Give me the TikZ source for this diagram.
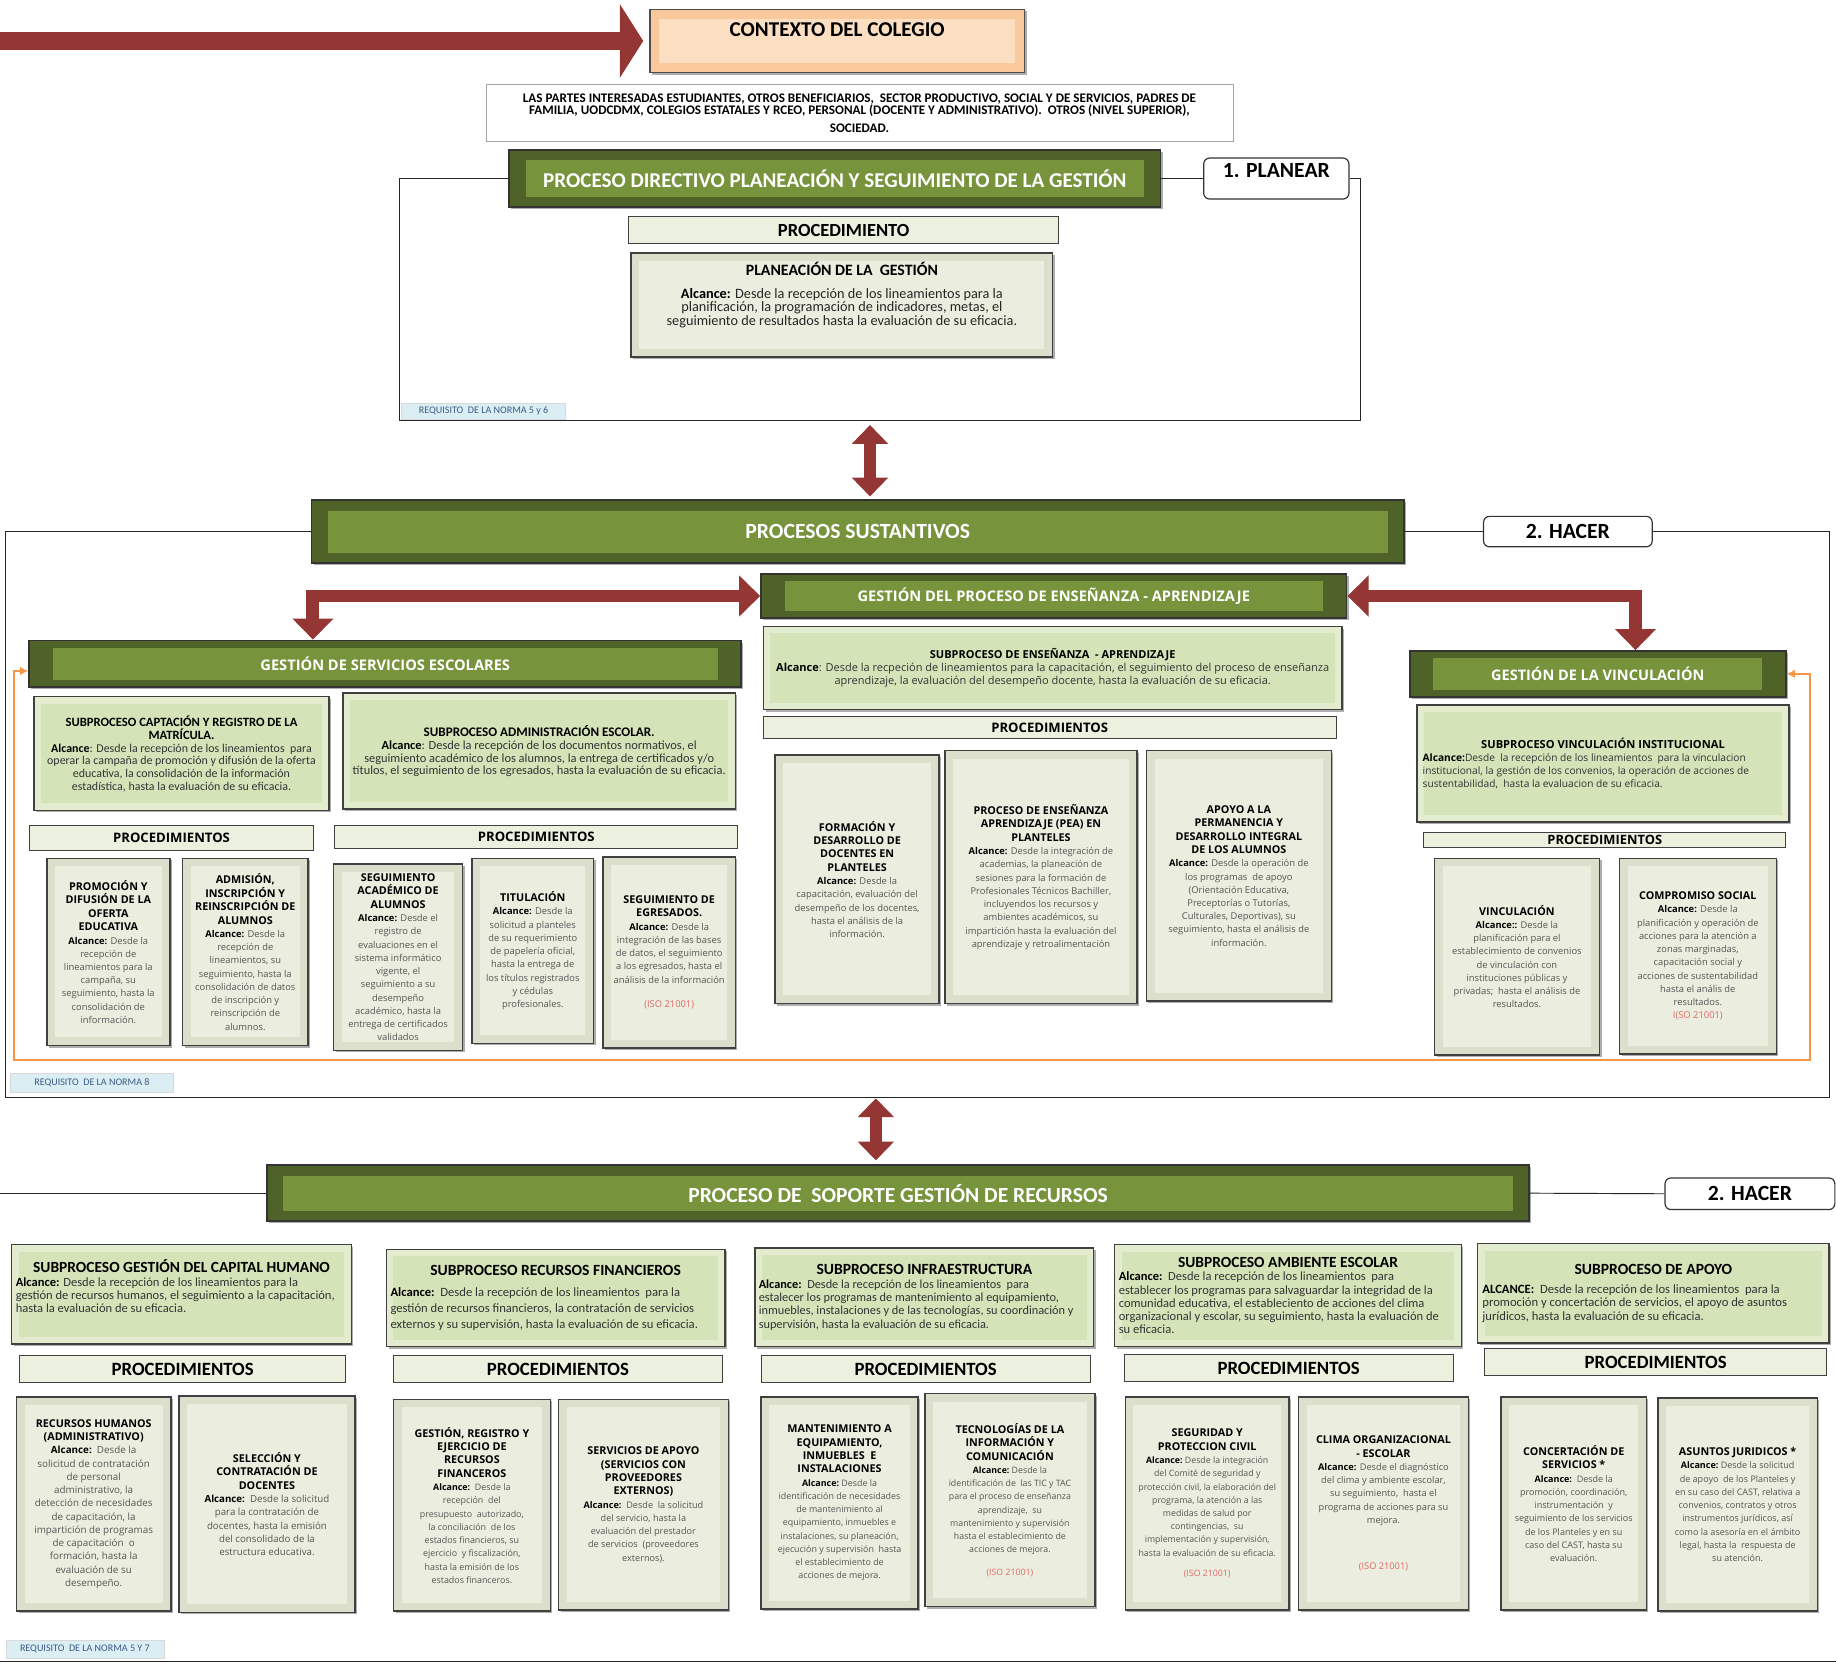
\documentclass[tikz,border=0pt]{standalone}
\usepackage{fontspec}
\setmainfont{Carlito}
\newfontfamily\os{Open Sans}
\usetikzlibrary{arrows.meta,shadows}
\definecolor{dred}{HTML}{943634}
\definecolor{hdrO}{HTML}{4F6228}
\definecolor{hdrI}{HTML}{77933C}
\definecolor{subO}{HTML}{E3ECCE}
\definecolor{subI}{HTML}{D5E3B9}
\definecolor{prO}{HTML}{DCDFCC}
\definecolor{prI}{HTML}{EBEEDF}
\definecolor{barF}{HTML}{EBF1DE}
\definecolor{ctxO}{HTML}{F9C89B}
\definecolor{ctxI}{HTML}{FCDEC3}
\definecolor{orng}{HTML}{F79646}
\definecolor{reqF}{HTML}{DBEEF4}
\definecolor{reqT}{HTML}{3B5C85}
\definecolor{isored}{HTML}{E06666}
\definecolor{bodyG}{HTML}{555555}
\newcommand\fs[2]{\fontsize{#1}{#2}\selectfont}
\newcommand\pttl[1]{\os\bfseries\fs{#1}{11.5}}
\newcommand\pbdy[1]{\mdseries\fs{#1}{11.3}\color{bodyG}}
\newcommand\alc{{\bfseries\color{black}Alcance:}}
\newcommand\iso{\color{isored}(ISO 21001)}
\newcommand\tb[3]{\begin{minipage}{#1pt}\centering\begingroup #2\par\endgroup\raggedright #3\end{minipage}}
\newcommand\mybox[7]{%
 \pgfmathsetmacro\mbw{#4-(#2)}%
 \pgfmathsetmacro\mbh{#5-(#3)}%
 \pgfmathsetmacro\mbt{#4-(#2)-6}%
 \pgfmathsetmacro\mbx{(#2+#4)/2}%
 \pgfmathsetmacro\mby{(#3+#5)/2}%
 \node[#6, minimum width=\mbw pt, minimum height=\mbh pt, inner sep=0pt] (#1) at (\mbx,\mby) {\parbox{\mbt pt}{\centering #7}};}
\tikzset{
 bev/.style n args={4}{fill=#1, path picture={\fill[#2] ([shift={(#3pt,-#4pt)}]path picture bounding box.north west) rectangle ([shift={(-#3pt,#4pt)}]path picture bounding box.south east);}},
 shd/.style={drop shadow={shadow xshift=1.8pt, shadow yshift=-1.8pt, opacity=0.45, fill=black!70}},
 hdr/.style={shd, bev={hdrO}{hdrI}{14}{9}, draw=black!80, line width=1.5pt, text=white, font=\bfseries},
 hdrs/.style={shd, bev={hdrO}{hdrI}{20}{6}, draw=black!80, line width=1.5pt, text=white},
 sub/.style={shd, bev={subO}{subI}{6}{6}, draw=black!75, line width=1.3pt},
 proc/.style={shd, bev={prO}{prI}{7}{7}, draw=black!75, line width=1.3pt},
 bar/.style={fill=barF, draw=black!75, line width=0.9pt},
 lbl/.style={fill=white, draw=black!80, line width=1pt, rounded corners=5pt},
 ctxbox/.style={shd, bev={ctxO}{ctxI}{8}{8}, draw=black!70, line width=1.3pt},
 req/.style={fill=reqF, draw=black!15, line width=0.5pt, text=reqT},
 frame/.style={draw=black!85, line width=0.8pt},
 dblarrow/.style={draw=dred, line width=10pt, {Triangle[length=16pt,width=30pt]}-{Triangle[length=16pt,width=30pt]}},
 elbow/.style={draw=dred, line width=11pt, line join=miter, {Triangle[length=18pt,width=34pt]}-{Triangle[length=18pt,width=34pt]}},
 bigarrow/.style={draw=dred, line width=16pt, -{Triangle[length=20pt,width=62pt]}},
 orangeloop/.style={draw=orng, line width=2pt, {Latex[length=7pt,width=7pt]}-{Latex[length=7pt,width=7pt]}},
}
\begin{document}
\begin{tikzpicture}[x=1pt,y=-1pt]
\useasboundingbox (0,0) rectangle (1568,1425.5);
\fill[white] (0,0) rectangle (1568,1425.5);

% ---------------- top
\coordinate (arrStart) at (0,35);
\mybox{ctx}{555}{8}{875}{62}{ctxbox}{\fs{18}{20}\bfseries CONTEXTO DEL COLEGIO\\[0pt]~}
\draw[bigarrow, shorten >=5pt] (arrStart) -- (ctx.west);
\mybox{stake}{415}{72}{1053}{121}{draw=black!35, line width=0.6pt, fill=white}{\fs{11.2}{11}\bfseries LAS PARTES INTERESADAS\ ESTUDIANTES,\ OTROS BENEFICIARIOS,\ \ SECTOR PRODUCTIVO, SOCIAL Y DE SERVICIOS, PADRES DE\\FAMILIA, UODCDMX,\ COLEGIOS\ ESTATALES Y RCEO, PERSONAL (DOCENTE\ Y ADMINISTRATIVO).\ \ OTROS (NIVEL SUPERIOR),\\[4pt]SOCIEDAD.}

% ---------------- planear
\mybox{hdrA}{435}{128}{991}{177}{hdr}{\fs{18}{20}PROCESO DIRECTIVO PLANEACIÓN Y SEGUIMIENTO DE LA GESTIÓN}
\mybox{planear}{1028}{135}{1152}{170}{lbl}{\fs{18.5}{19}\bfseries 1. PLANEAR\\[-6pt]~}
\mybox{procA}{537}{185}{904}{208}{bar}{\fs{15.8}{17}\bfseries PROCEDIMIENTO}
\mybox{planG}{539}{216}{899}{305}{proc}{\fs{13.5}{14}\bfseries PLANEACIÓN DE LA\ \ GESTIÓN\\[8pt]\fs{12.2}{11.6}\mdseries\color{black!85}\textbf{\color{black}Alcance:} Desde la recepción de los lineamientos para la\\planificación, la programación de indicadores, metas, el\\seguimiento de resultados hasta la evaluación de su eficacia.\\[8pt]~}
\mybox{reqA}{343}{344}{483}{358}{req}{\fs{8.6}{9}REQUISITO\ \ DE LA NORMA 5 y 6}
\coordinate (fAbl) at (341,359);
\coordinate (fAbr) at (1162,359);
\draw[frame] (hdrA.west) -| (fAbl) -- (fAbr) |- (planear.east);
\draw[frame] (hdrA.east) -- (planear.west);

\coordinate (a1s) at (743,363);
\coordinate (a1e) at (743,424);
\draw[dblarrow] (a1s) -- (a1e);

% ---------------- sustantivos
\mybox{hdrB}{266}{427}{1199}{481}{hdr}{\fs{18.5}{20}PROCESOS SUSTANTIVOS}
\mybox{hacerA}{1267}{441}{1411}{467}{lbl}{\fs{18.5}{19}\bfseries 2. HACER}
\coordinate (fBbl) at (5,937);
\coordinate (fBbr) at (1562,937);
\draw[frame] (hdrB.west) -| (fBbl) -- (fBbr) |- (hacerA.east);
\draw[frame] (hdrB.east) -- (hacerA.west);

\mybox{hdrEns}{650}{490}{1150}{528}{hdrs}{\os\fs{12.5}{14}\bfseries GESTIÓN\ DEL PROCESO DE ENSEÑANZA - APRENDIZAJE}
\mybox{hdrSer}{25}{547}{633}{587}{hdrs}{\os\fs{12.5}{14}\bfseries GESTIÓN\ DE SERVICIOS ESCOLARES}
\mybox{hdrVin}{1204}{556}{1525}{595}{hdrs}{\os\fs{12.4}{14}\bfseries GESTIÓN DE LA VINCULACIÓN}
\draw[elbow] (hdrEns.west) -| ([xshift=243pt]hdrSer.north west);
\draw[elbow] (hdrEns.east) -| ([xshift=-129pt]hdrVin.north east);
\coordinate (oL) at (12,905);
\coordinate (oR) at (1546,905);
\draw[orangeloop] ([yshift=-6pt]hdrSer.west) -| (oL) -- (oR) |- (hdrVin.east);

\mybox{subCap}{29}{595}{281}{692}{sub}{\fs{10.8}{11.5}\bfseries SUBPROCESO CAPTACIÓN Y REGISTRO DE LA\\MATRÍCULA.\\\fs{10.2}{10.8}\mdseries\color{black!80}\textbf{\color{black}Alcance}: Desde\ la recepción\ de los lineamientos\ \ para\\operar la campaña de promoción y difusión\ de la oferta\\educativa,\ la consolidación\ de la información\\estadística,\ hasta la evaluación\ de su eficacia.}
\mybox{subAdm}{293}{592}{628}{691}{sub}{\fs{11.2}{11}\bfseries SUBPROCESO ADMINISTRACIÓN ESCOLAR.\\\fs{10.6}{11}\mdseries\color{black!80}\textbf{\color{black}Alcance}: Desde\ la recepción\ de los documentos normativos, el\\seguimiento\ académico\ de los alumnos, la entrega de certificados\ y/o\\títulos, el seguimiento\ de los egresados,\ hasta la evaluación\ de su eficacia.}
\mybox{prSerA}{25}{705}{268}{726}{bar}{\os\fs{11.2}{12}\bfseries PROCEDIMIENTOS}
\mybox{prSerB}{286}{705}{630}{725}{bar}{\os\fs{11.2}{12}\bfseries PROCEDIMIENTOS}

\mybox{pProm}{40}{733}{145}{893}{proc}{\pttl{9.2}PROMOCIÓN Y\\DIFUSIÓN DE LA\\OFERTA\\EDUCATIVA\\\pbdy{8}\alc{} Desde la\\recepción de\\lineamientos para la\\campaña, su\\seguimiento,\ hasta la\\consolidación de\\información.}
\mybox{pAdm}{156}{733}{263}{893}{proc}{\pttl{9.2}ADMISIÓN,\\INSCRIPCIÓN Y\\REINSCRIPCIÓN DE\\ALUMNOS\\\pbdy{8}\alc{} Desde la\\recepción de\\lineamientos, su\\seguimiento,\ hasta la\\consolidación de datos\\de inscripción y\\reinscripción de\\alumnos.}
\mybox{pSeg}{285}{738}{395}{897}{proc}{\pttl{9.2}SEGUIMIENTO\\ACADÉMICO DE\\ALUMNOS\\\pbdy{8}\alc{} Desde el\\registro de\\evaluaciones en el\\sistema informático\\vigente,\ el\\seguimiento\ a su\\desempeño\\académico, hasta\ la\\entrega de certificados\\validados}
\mybox{pTit}{403}{733}{507}{891}{proc}{\pttl{9.2}TITULACIÓN\\\pbdy{8}\alc{} Desde la\\solicitud\ a planteles\\de su requerimiento\\de papelería oficial,\\hasta la entrega de\\los títulos registrados\\y cédulas\\profesionales.}
\mybox{pEgr}{515}{732}{628}{895}{proc}{\pttl{9.2}SEGUIMIENTO\ DE\\EGRESADOS.\\\pbdy{8}\alc{} Desde la\\integración de las bases\\de datos, el seguimiento\\a los egresados, hasta el\\análisis de la información\\[10pt]\iso}

\mybox{subEns}{652}{535}{1146}{606}{sub}{\os\fs{9.4}{11}\bfseries SUBPROCESO DE ENSEÑANZA\ \ - APRENDIZAJE\\\mdseries\color{black!80}\textbf{\color{black}Alcance}: Desde\ la recpeción\ de lineamientos\ para la capacitación,\ el seguimiento\ del proceso de enseñanza\\aprendizaje,\ la evaluación\ del desempeño\ docente, hasta la evaluación\ de su eficacia.}
\mybox{prEns}{652}{612}{1141}{631}{bar}{\os\fs{11.2}{12}\bfseries PROCEDIMIENTOS}
\mybox{pFor}{662}{645}{802}{857}{proc}{\pttl{9.2}FORMACIÓN Y\\DESARROLLO\ DE\\DOCENTES\ EN\\PLANTELES\\\pbdy{8}\alc{} Desde la\\capacitación,\ evaluación del\\desempeño de\ los docentes,\\hasta el análisis de\ la\\información.}
\mybox{pPea}{807}{641}{971}{857}{proc}{\pttl{9.2}PROCESO DE\ ENSEÑANZA\\APRENDIZAJE\ (PEA) EN\\PLANTELES\\\pbdy{8}\alc{} Desde\ la integración de\\academias, la planeación de\\sesiones para la formación de\\Profesionales Técnicos Bachiller,\\incluyendos\ los recursos y\\ambientes académicos, su\\impartición\ hasta la evaluación del\\aprendizaje y retroalimentación}
\mybox{pApo}{979}{641}{1137}{855}{proc}{\pttl{9.2}APOYO A LA\\PERMANENCIA\ Y\\DESARROLLO\ INTEGRAL\\DE LOS ALUMNOS\\\pbdy{8}\alc{} Desde\ la operación de\\los programas\ \ de apoyo\\(Orientación Educativa,\\Preceptorías o Tutorías,\\Culturales,\ Deportivas),\ su\\seguimiento,\ hasta el análisis de\\información.}

\mybox{subVin}{1210}{602}{1528}{702}{sub}{\os\fs{8.7}{11}\tb{308}{\fs{9.5}{11}\bfseries SUBPROCESO VINCULACIÓN INSTITUCIONAL}{\color{black!80}\textbf{\color{black}Alcance:}Desde\ \ la recepción\ de los lineamientos\ \ para la vinculacion\\institucional,\ la gestión de los convenios,\ la operación\ de acciones\ de\\sustentabilidad,\ \ hasta la evaluacion\ de su eficacia.}}
\mybox{prVin}{1216}{711}{1525}{724}{bar}{\os\fs{11}{11}\bfseries PROCEDIMIENTOS}
\mybox{pVin}{1225}{733}{1366}{901}{proc}{\pttl{9.2}VINCULACIÓN\\\pbdy{8}{\bfseries\color{black}Alcance::} Desde la\\planificación para el\\establecimiento de convenios\\de vinculación con\\instituciones públicas y\\privadas;\ \ hasta el análisis de\\resultados.}
\mybox{pCom}{1383}{733}{1517}{900}{proc}{\pttl{9.2}COMPROMISO SOCIAL\\\pbdy{8}\alc{} Desde la\\planificación y\ operación\ de\\acciones para la atención a\\zonas marginadas,\\capacitación social y\\acciones de sustentabilidad\\hasta el\ anális de\\resultados.\\\color{isored}I(SO 21001)}
\mybox{reqB}{9}{917}{148}{933}{req}{\fs{8.6}{9}REQUISITO\ \ DE LA NORMA 8}

\coordinate (a2s) at (748,938);
\coordinate (a2e) at (748,991);
\draw[dblarrow] (a2s) -- (a2e);

% ---------------- soporte
\mybox{hdrC}{228}{995}{1306}{1043}{hdr}{\fs{18.4}{20}PROCESO DE\ \ SOPORTE GESTIÓN DE RECURSOS}
\mybox{hacerB}{1422}{1006}{1567}{1033}{lbl}{\fs{18.5}{19}\bfseries 2. HACER}
\coordinate (sL) at (0,1019);
\draw[frame] (sL) -- (hdrC.west);
\draw[frame] (hdrC.east) -- (hacerB.west);

\mybox{subCH}{10}{1063}{300}{1148}{sub}{\tb{283}{\fs{13.2}{13}\bfseries SUBPROCESO GESTIÓN DEL CAPITAL HUMANO}{\fs{10.7}{11.3}\color{black!80}\textbf{\color{black}Alcance:} Desde\ la\ recepción\ de los lineamientos\ para la\\gestión de recursos\ humanos,\ el seguimiento\ a la capacitación,\\hasta la evaluación\ de su eficacia.\par\vspace{14pt}}}
\mybox{subRF}{330}{1067}{619}{1150}{sub}{\tb{282}{\fs{13.3}{13}\bfseries SUBPROCESO RECURSOS FINANCIEROS\par\vspace{4pt}}{\fs{10.8}{14}\color{black!80}\textbf{\color{black}Alcance:}\ \ Desde la\ recepción de los lineamientos\ \ para la\\gestión de recursos\ financieros,\ la contratación de servicios\\externos y su supervisión,\ hasta\ la evaluación\ de su eficacia.}}
\mybox{subIn}{645}{1066}{934}{1150}{sub}{\tb{283}{\fs{13.3}{13}\bfseries SUBPROCESO INFRAESTRUCTURA}{\fs{10.5}{11.4}\color{black!80}\textbf{\color{black}Alcance:}\ \ Desde\ la\ recepción\ de los lineamientos\ \ para\\estalecer\ los programas de mantenimiento\ al equipamiento,\\inmuebles,\ instalaciones\ y de las tecnologías,\ su coordinación\ y\\supervisión,\ hasta la evaluación\ de su eficacia.}}
\mybox{subAm}{952}{1063}{1248}{1150}{sub}{\tb{289}{\fs{13.2}{13}\bfseries SUBPROCESO AMBIENTE ESCOLAR}{\fs{10.7}{11.2}\color{black!80}\textbf{\color{black}Alcance:}\ \ Desde\ la\ recepción\ de los lineamientos\ \ para\\establecer\ los programas para salvaguardar\ la integridad\ de la\\comunidad educativa,\ el estableciento\ de acciones\ del clima\\organizacional\ y\ escolar,\ su seguimiento,\ hasta la evaluación\ de\\su eficacia.}}
\mybox{subAp}{1262}{1062}{1562}{1147}{sub}{\tb{292}{\fs{13.3}{13}\bfseries SUBPROCESO DE APOYO\par\vspace{5pt}}{\fs{10.8}{11.5}\color{black!80}\textbf{\color{black}ALCANCE:}\ \ Desde\ la\ recepción\ de los lineamientos\ \ para la\\promoción\ y concertación\ de servicios,\ el apoyo\ de asuntos\\jurídicos,\ hasta la evaluación\ de su eficacia.}}

\mybox{prCH}{17}{1158}{295}{1181}{bar}{\fs{16}{17}\bfseries PROCEDIMIENTOS}
\mybox{prRF}{336}{1158}{617}{1181}{bar}{\fs{16}{17}\bfseries PROCEDIMIENTOS}
\mybox{prIn}{650}{1158}{931}{1181}{bar}{\fs{16}{17}\bfseries PROCEDIMIENTOS}
\mybox{prAm}{960}{1157}{1241}{1180}{bar}{\fs{16}{17}\bfseries PROCEDIMIENTOS}
\mybox{prAp}{1268}{1152}{1560}{1175}{bar}{\fs{16}{17}\bfseries PROCEDIMIENTOS}

\mybox{pRH}{14}{1193}{146}{1376}{proc}{\pttl{9.2}RECURSOS HUMANOS\\(ADMINISTRATIVO)\\\pbdy{8.4}\alc{}\ \ Desde\ la\\solicitud de contratación\\de personal\\administrativo,\ la\\detección de necesidades\\de capacitación,\ la\\impartición\ de programas\\de capacitación\ \ o\\formación,\ hasta la\\evaluación\ de su\\desempeño.}
\mybox{pSel}{153}{1192}{303}{1377}{proc}{\pttl{9.2}SELECCIÓN Y\\CONTRATACIÓN DE\\DOCENTES\\\pbdy{8.3}\alc{}\ \ Desde\ la solicitud\\para la contratación de\\docentes,\ hasta la emisión\\del consolidado\ de la\\estructura educativa.}
\mybox{pGes}{336}{1195}{470}{1376}{proc}{\pttl{9.2}GESTIÓN, REGISTRO Y\\EJERCICIO DE\\RECURSOS\\FINANCEROS\\\pbdy{7.6}\alc{}\ \ Desde\ la\\recepción\ \ del\\presupuesto\ \ autorizado,\\la conciliación\ \ de los\\estados financieros,\ su\\ejercicio\ \ y fiscalización,\\hasta la emisión de los\\estados financeros.}
\mybox{pSer}{477}{1195}{622}{1375}{proc}{\pttl{9.2}SERVICIOS DE APOYO\\(SERVICIOS CON\\PROVEEDORES\\EXTERNOS)\\\pbdy{7.8}\alc{}\ \ Desde\ \ la solicitud\\del servicio,\ hasta\ la\\evaluación\ del prestador\\de servicios\ \ (proveedores\\externos).}
\mybox{pMan}{650}{1193}{784}{1374}{proc}{\pttl{9.2}MANTENIMIENTO\ A\\EQUIPAMIENTO,\\INMUEBLES\ \ E\\INSTALACIONES\\\pbdy{7.6}\alc{}\ Desde la\\identificación de necesidades\\de mantenimiento\ al\\equipamiento,\ inmuebles e\\instalaciones,\ su planeación,\\ejecución y supervisión\ \ hasta\\el establecimiento de\\acciones de mejora.}
\mybox{pTic}{790}{1190}{935}{1372}{proc}{\pttl{9.2}TECNOLOGÍAS DE LA\\INFORMACIÓN Y\\COMUNICACIÓN\\\pbdy{7.5}\alc{}\ Desde la\\identificación de\ \ las TIC y TAC\\para el proceso de enseñanza\\aprendizaje,\ \ su\\mantenimiento y supervisión\\hasta el establecimiento de\\acciones de mejora.\\[8pt]\iso}
\mybox{pSeg2}{961}{1193}{1101}{1375}{proc}{\pttl{9.2}SEGURIDAD\ Y\\PROTECCION CIVIL\\\pbdy{7.5}\alc{}\ Desde la integración\\del Comité de seguridad y\\protección civil, la elaboración del\\programa, la atención a las\\medidas de salud por\\contingencias,\ \ su\\implementación y supervisión,\\hasta la evaluación de su eficacia.\\[6pt]\iso}
\mybox{pCli}{1109}{1193}{1254}{1375}{proc}{\pttl{9.2}CLIMA ORGANIZACIONAL\\- ESCOLAR\\\pbdy{7.9}{\bfseries\color{black}Alcance:} Desde el diagnóstico\\del clima y ambiente escolar,\\su seguimiento,\ \ hasta el\\programa de acciones para su\\mejora.\\[28pt]\iso}
\mybox{pCon}{1282}{1193}{1406}{1375}{proc}{\pttl{9.2}CONCERTACIÓN DE\\SERVICIOS *\\\pbdy{7.7}\alc{}\ \ Desde la\\promoción,\ coordinación,\\instrumentación\ \ y\\seguimiento\ de los servicios\\de los Planteles y en su\\caso del CAST,\ hasta su\\evaluación.}
\mybox{pAsu}{1416}{1194}{1552}{1376}{proc}{\pttl{9.2}ASUNTOS JURIDICOS *\\\pbdy{7.7}\alc{}\ Desde la solicitud\\de apoyo\ \ de los Planteles y\\en su caso del CAST,\ relativa a\\convenios,\ contratos y otros\\instrumentos\ jurídicos,\ así\\como la asesoría en el ámbito\\legal,\ hasta la\ \ respuesta\ de\\su atención.}
\mybox{reqC}{5}{1401}{140}{1416}{req}{\fs{8.6}{9}REQUISITO\ \ DE LA NORMA 5 Y 7}
\coordinate (bL) at (0,1419);
\coordinate (bR) at (1568,1419);
\draw[frame] (bL) -- (bR);
\end{tikzpicture}
\end{document}
